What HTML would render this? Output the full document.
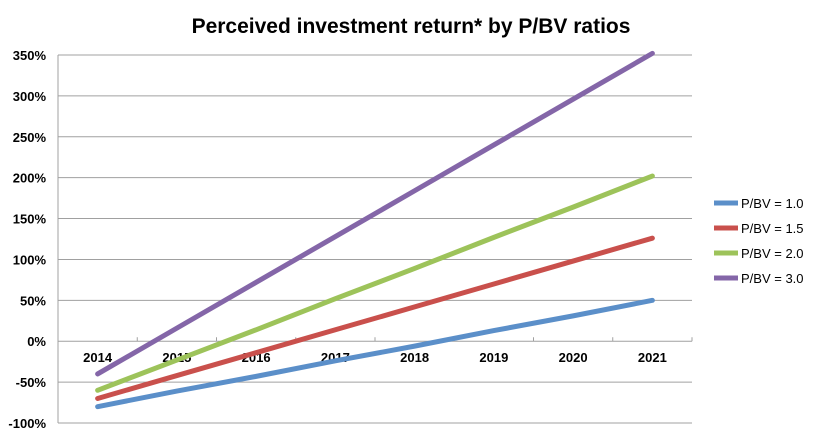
<!DOCTYPE html>
<html><head><meta charset="utf-8"><style>
body{margin:0;background:#fff;}
svg{display:block;font-family:"Liberation Sans",Arial,sans-serif;}
</style></head><body>
<svg id="chart" width="822" height="438" viewBox="0 0 822 438">
<text x="411" y="33" text-anchor="middle" font-size="21" font-weight="bold">Perceived investment return* by P/BV ratios</text>
<g id="grid"></g><g id="lines"></g><g id="legend"></g>
</svg>
<script>
const categories=["2014","2015","2016","2017","2018","2019","2020","2021"];
const yTicks=[-100,-50,0,50,100,150,200,250,300,350];
const seriesNames=["P/BV = 1.0","P/BV = 1.5","P/BV = 2.0","P/BV = 3.0"];
const s1=[-80,-61,-43,-24,-6,13,31,50];
const s2=[-70,-42,-14,14,42,70,98,126];
const s3=[-60,-23,14,52,89,127,164,202];
const s4=[-40,16,72,128,184,240,296,352];
const colors=["#5b8fc9","#c9504c","#9dc35a","#8466a8"];
const NS="http://www.w3.org/2000/svg";
const L=58,R=692,T=55,B=423;
const x=i=>L+(R-L)/categories.length*(i+0.5);
const y=v=>B-(v+100)/450*(B-T);
function mk(t,a,p){const e=document.createElementNS(NS,t);for(const k in a)e.setAttribute(k,a[k]);p.appendChild(e);return e;}
const grid=document.getElementById('grid');
yTicks.forEach(v=>{
const g=mk('line',{x1:L,x2:R,y1:y(v),y2:y(v),stroke:'#a0a0a0','stroke-width':1},grid);


const t=mk('text',{x:46,y:y(v)+5,'text-anchor':'end','font-size':13,'font-weight':'bold'},grid);
t.textContent=v+'%';


});
const ax=mk('line',{x1:L,x2:L,y1:T,y2:B,stroke:'#a0a0a0'},grid);


categories.forEach((c,i)=>{
const bx=L+(R-L)/categories.length*(i+1);
const tk=mk('line',{x1:bx,x2:bx,y1:y(0)-4,y2:y(0),stroke:'#a0a0a0'},grid);


const t=mk('text',{x:x(i),y:y(0)+21,'text-anchor':'middle','font-size':13,'font-weight':'bold'},grid);
t.textContent=c;


});
const lines=document.getElementById('lines'),leg=document.getElementById('legend');
[s1,s2,s3,s4].forEach((s,k)=>{
const p=mk('polyline',{points:s.map((v,i)=>x(i)+','+y(v)).join(' '),fill:'none',stroke:colors[k],'stroke-width':5,'stroke-linecap':'round','stroke-linejoin':'round'},lines);


const ly=203+k*25;
const g=mk('g',{},leg);


mk('line',{x1:714,x2:738,y1:ly,y2:ly,stroke:colors[k],'stroke-width':5},g);
const t=mk('text',{x:741,y:ly+5,'font-size':13},g);
t.textContent=seriesNames[k];
});
</script>
</body></html>
